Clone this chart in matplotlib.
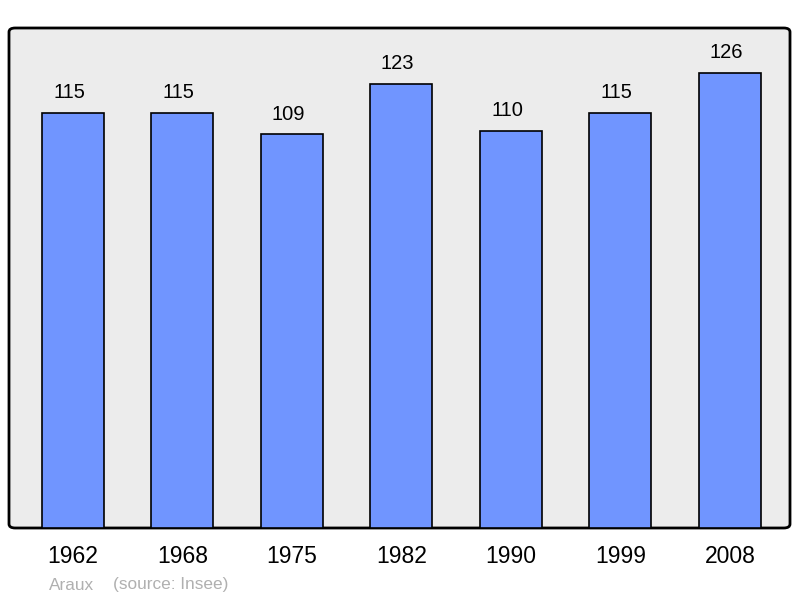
import matplotlib
matplotlib.use('Agg')
import matplotlib.pyplot as plt
from matplotlib.patches import FancyBboxPatch
from matplotlib.transforms import offset_copy

years = ['1962', '1968', '1975', '1982', '1990', '1999', '2008']
population = [115, 115, 109, 123, 110, 115, 126]

plt.rcParams['font.family'] = ['Liberation Sans', 'DejaVu Sans']

fig = plt.figure(figsize=(8, 5.98), dpi=100)
ax = fig.add_axes([9 / 800, 70 / 598, 781 / 800, 500 / 598])
ax.set_facecolor('none')
for s in ax.spines.values():
    s.set_visible(False)

# fond gris avec coins arrondis
frame = FancyBboxPatch((0, 0), 1, 1, boxstyle='round,pad=0,rounding_size=0.008',
                       transform=ax.transAxes, facecolor='#ececec', edgecolor='black',
                       linewidth=2, zorder=0, clip_on=False)
ax.add_patch(frame)

x = range(len(years))
bars = ax.bar(x, population, width=0.566, color='#7095ff', edgecolor='black',
              linewidth=1.2, zorder=2)
lbl_tr = offset_copy(ax.transData, fig=fig, x=-4, y=0, units='dots')
for xi, v in zip(x, population):
    ax.text(xi, v + 3.0, str(v), ha='center', va='bottom', fontsize=14.5,
            color='black', transform=lbl_tr)

ax.set_xlim(-0.584, 6.548)
ax.set_ylim(0, 138.5)
ax.set_yticks([])
ax.set_xticks(list(x))
ax.set_xticklabels(years, fontsize=16.5)
ax.tick_params(axis='x', length=0, pad=12)

fig.text(49 / 800, 1 - 585 / 598, 'Araux', fontsize=12.4, color='#b0b0b0', va='center')
fig.text(113 / 800, 1 - 585 / 598, '(source: Insee)', fontsize=12.4, color='#b0b0b0', va='center')

fig.savefig('out.png', dpi=100)
